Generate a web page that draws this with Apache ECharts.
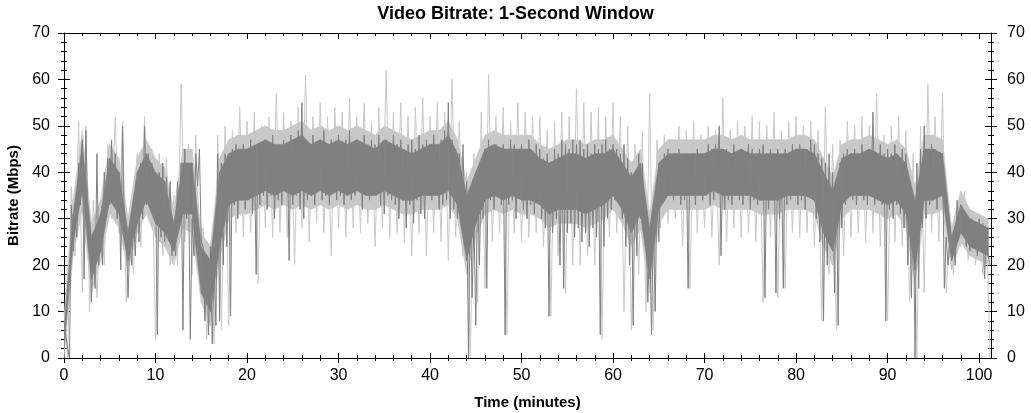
<!DOCTYPE html>
<html>
<head>
<meta charset="utf-8">
<script src="https://cdn.jsdelivr.net/npm/echarts@6/dist/echarts.min.js"></script>
<style>
html,body{margin:0;padding:0;background:#fff;}
#chart{width:1031px;height:413px;}
</style>
</head>
<body>
<div id="chart"></div>
<script>
// ---- data (Mbps) ----
const titleText = 'Video Bitrate: 1-Second Window';
const xName = 'Time (minutes)';
const yName = 'Bitrate (Mbps)';
const xMax = 101.3;
const yMax = 70;
const xTickLabels = [0,10,20,30,40,50,60,70,80,90,100];
const yTickLabels = [0,10,20,30,40,50,60,70];

// dense core of the trace, one value per minute (t = 0..101)
const coreStep = 1;
const darkCoreLo = [
  2,25,36,17,23,34,31,21,29,34, 29,27,23,31,31,14,10,24,33,34,
  34,35,36,35,36,35,36,35,36,35, 36,35,36,35,35,36,35,34,34,35,
  35,35,36,33,21,29,34,35,34,35, 34,34,33,31,32,32,32,31,32,33,
  35,32,27,31,17,32,35,35,35,35, 35,36,35,35,35,35,34,34,34,35,
  35,35,34,27,23,33,35,35,35,34, 33,34,31,19,34,34,35,21,27,24,
  23,22
];
const darkCoreHi = [
  6,31,46,26,31,43,40,27,40,44, 40,38,29,42,42,24,21,40,44,45,
  45,46,47,46,46,47,48,46,47,46, 47,46,47,46,45,47,46,45,44,45,
  46,46,48,44,35,40,45,46,45,45, 45,45,43,42,43,44,44,43,44,44,
  45,42,39,42,28,42,44,44,44,44, 44,45,45,44,45,44,44,44,44,44,
  45,45,44,40,36,43,44,44,45,44, 43,44,42,34,45,45,44,26,33,30,
  29,28
];
const lightCoreLo = [
  0,22,32,14,21,31,28,19,27,31, 26,24,20,28,27,12,7,21,30,31,
  31,32,33,32,33,32,33,32,33,32, 33,32,33,32,32,33,32,31,31,32,
  32,32,33,30,18,26,31,32,31,32, 31,31,30,28,29,29,29,28,29,30,
  32,29,24,28,14,29,32,32,32,32, 32,33,32,32,32,32,31,31,31,32,
  32,32,31,24,20,30,32,32,32,31, 30,31,28,16,31,31,32,19,25,22,
  21,20
];
const lightCoreHi = [
  9,34,49,29,34,46,43,30,43,47, 43,41,32,45,45,27,24,43,47,48,
  48,49,50,49,49,50,51,49,50,49, 50,49,50,49,48,50,49,48,47,48,
  49,49,51,47,38,43,48,49,48,48, 48,48,46,45,46,47,47,46,47,47,
  48,45,42,45,31,45,47,47,47,47, 47,48,48,47,48,47,47,47,47,47,
  48,48,47,43,39,46,47,47,48,47, 46,47,45,37,48,48,47,28,36,32,
  31,30
];

// main (dark) trace, one value every 0.2 minute
const darkStep = 0.2;
const darkValues = [
  8,5,2,0,33,23,30,26,42,33,
  47,17,49,30,28,12,27,15,44,20,
  30,20,40,31,43,33,47,34,44,30,
  40,19,50,28,27,13,26,20,30,22,
  36,25,42,30,50,33,44,36,42,30,
  38,5,40,26,42,25,39,28,38,22,
  28,22,38,28,42,6,45,30,40,4,
  30,22,44,37,45,25,24,8,22,5,
  24,3,20,7,44,8,42,20,44,24,
  43,9,45,33,46,30,44,34,46,32,
  45,34,47,31,44,18,46,33,45,35,
  47,32,44,35,48,30,45,34,46,33,
  47,36,45,21,48,33,46,35,49,32,
  55,30,47,34,46,35,48,33,46,36,
  47,34,49,35,45,33,47,36,46,34,
  48,35,46,33,47,36,49,34,46,35,
  47,36,45,32,48,35,46,34,47,36,
  46,35,48,33,45,31,47,35,46,34,
  48,33,46,30,47,34,45,28,46,33,
  47,29,45,34,48,31,46,30,47,35,
  46,34,48,35,45,32,47,33,49,34,
  55,30,47,32,45,30,44,34,46,28,
  38,0,35,13,30,7,37,20,42,30,
  45,15,47,34,45,32,46,35,44,33,
  46,5,45,33,47,34,46,30,45,35,
  46,32,45,30,47,33,44,31,46,34,
  45,30,43,28,44,9,42,27,45,30,
  44,20,47,15,46,27,45,29,47,26,
  46,28,47,25,45,27,46,24,44,28,
  46,26,45,5,46,24,47,30,45,32,
  46,34,45,35,44,30,46,24,43,20,
  40,7,38,22,44,30,42,28,30,12,
  28,5,30,10,36,25,40,35,44,36,
  45,35,43,34,44,36,45,33,42,34,
  44,15,43,35,44,33,45,36,43,34,
  44,35,46,33,45,34,46,36,50,22,
  43,32,45,34,44,33,46,35,44,34,
  45,33,44,35,46,32,45,34,44,33,
  45,34,46,13,44,32,45,34,44,14,
  45,30,43,15,45,33,44,34,46,35,
  45,33,46,34,44,32,45,35,47,34,
  46,30,44,25,43,8,42,20,44,30,
  40,14,38,7,42,28,44,33,45,35,
  44,34,45,33,43,35,46,34,44,33,
  45,35,53,33,44,34,46,33,44,8,
  45,32,44,30,46,33,43,31,45,28,
  44,20,38,13,35,0,42,15,45,28,
  50,30,45,33,46,34,45,32,44,35,
  44,15,26,20,25,21,26,20,34,28,
  33,27,30,24,29,23,30,24,29,22,
  30,23,29,17,28,22,20
];

// light (peak) trace, one value every 0.4 minute
const lightStep = 0.4;
const lightValues = [
  10,0,37,22,51,14,50,10,34,13,
  32,20,46,30,52,27,51,12,30,18,
  44,24,52,32,45,4,44,22,43,20,
  35,20,59,25,46,18,48,24,28,4,
  25,3,48,6,50,7,49,27,54,26,
  51,27,53,16,50,28,52,26,57,27,
  53,26,51,20,54,28,61,25,52,29,
  55,27,52,22,54,28,53,26,56,28,
  52,27,55,29,51,24,54,28,62,26,
  53,27,55,25,52,22,54,27,56,22,
  52,27,55,25,53,21,60,26,51,22,
  40,0,44,12,53,15,61,25,52,27,
  54,5,51,27,55,25,53,26,52,27,
  52,24,49,9,51,22,53,14,52,20,
  58,20,55,22,53,20,54,4,52,26,
  55,27,52,10,50,6,46,18,49,10,
  57,6,47,28,48,29,47,30,50,24,
  49,15,51,27,48,28,50,26,49,20,
  56,25,49,28,51,26,50,27,52,25,
  51,12,50,26,53,13,49,15,51,27,
  52,26,50,27,51,24,49,8,54,18,
  46,6,47,22,51,26,50,27,52,25,
  50,27,57,24,48,8,50,25,52,24,
  49,12,44,0,50,14,59,27,52,25,
  57,14,28,18,30,24,36,21,31,20,
  31,18,30,0
];

// ---- build ----
const DARK = '#808080', LIGHT = '#c8c8c8';
const toPairs = (vals, step) => vals.map((v, i) => [Math.round(i * step * 10) / 10, v]);
const minorOf = (majors, parts) => {
  const out = [];
  for (let i = 0; i < majors.length - 1; i++) {
    const a = majors[i], b = majors[i + 1];
    for (let k = 1; k < parts; k++) out.push(a + (b - a) * k / parts);
  }
  return out;
};
const xMinor = minorOf(xTickLabels, 5);
const yMinor = minorOf(yTickLabels, 5);
const FONT = '"Liberation Sans", Arial, sans-serif';

function tickAxis(kind, pos, inside, len, vals, extra) {
  const base = {
    type: 'value', position: pos, min: 0, max: kind === 'x' ? xMax : yMax,
    axisLine: { show: false, onZero: false },
    splitLine: { show: false },
    axisLabel: { show: false },
    axisTick: { show: true, inside: inside, length: len, customValues: vals, lineStyle: { color: '#000', width: 1 } }
  };
  return Object.assign(base, extra || {});
}

const xAxes = [
  tickAxis('x', 'bottom', false, 5, xTickLabels, {
    axisLine: { show: true, onZero: false, lineStyle: { color: '#000', width: 1 } },
    axisLabel: { show: true, customValues: xTickLabels, fontSize: 16, color: '#000', fontFamily: FONT, margin: 10 },
    name: xName, nameLocation: 'middle', nameGap: 37,
    nameTextStyle: { fontSize: 15, fontWeight: 'bold', color: '#000', fontFamily: FONT }
  }),
  tickAxis('x', 'bottom', true, 5, xTickLabels),
  tickAxis('x', 'bottom', false, 3, xMinor),
  tickAxis('x', 'bottom', true, 3, xMinor),
  tickAxis('x', 'top', true, 6, xTickLabels, {
    axisLine: { show: true, onZero: false, lineStyle: { color: '#000', width: 1 } }
  }),
  tickAxis('x', 'top', true, 3, xMinor)
];

const yAxes = [
  tickAxis('y', 'left', false, 6, yTickLabels, {
    axisLine: { show: true, onZero: false, lineStyle: { color: '#000', width: 1 } },
    axisLabel: { show: true, customValues: yTickLabels, fontSize: 16, color: '#000', fontFamily: FONT, margin: 14 },
    name: yName, nameLocation: 'middle', nameGap: 43, nameRotate: 90,
    nameTextStyle: { fontSize: 15, fontWeight: 'bold', color: '#000', fontFamily: FONT }
  }),
  tickAxis('y', 'left', true, 6, yTickLabels),
  tickAxis('y', 'left', false, 3, yMinor),
  tickAxis('y', 'left', true, 3, yMinor),
  tickAxis('y', 'right', false, 6, yTickLabels, {
    axisLine: { show: true, onZero: false, lineStyle: { color: '#000', width: 1 } },
    axisLabel: { show: true, customValues: yTickLabels, fontSize: 16, color: '#000', fontFamily: FONT, margin: 16 }
  }),
  tickAxis('y', 'right', true, 6, yTickLabels),
  tickAxis('y', 'right', false, 3, yMinor),
  tickAxis('y', 'right', true, 3, yMinor)
];

// filled band between lo and hi, drawn segment by segment through the axes' scales
function band(name, lo, hi, color, z) {
  const data = lo.map((v, i) => [Math.round(i * coreStep * 10) / 10, v, hi[i]]);
  return {
    type: 'custom', name: name, xAxisIndex: 0, yAxisIndex: 0, z: z, silent: true, clip: true,
    encode: { x: 0, y: [1, 2] },
    data: data,
    renderItem: function (params, api) {
      const i = params.dataIndex;
      if (i >= data.length - 1) return null;
      const a = data[i], b = data[i + 1];
      const pts = [
        api.coord([a[0], a[1]]), api.coord([b[0], b[1]]),
        api.coord([b[0], b[2]]), api.coord([a[0], a[2]])
      ];
      return { type: 'polygon', shape: { points: pts }, style: { fill: color, stroke: color, lineWidth: 0.6 } };
    }
  };
}

const chart = echarts.init(document.getElementById('chart'), null, { renderer: 'canvas' });
chart.setOption({
  animation: false,
  backgroundColor: '#fff',
  title: {
    text: titleText, left: 'center', top: 0,
    textStyle: { fontSize: 18, fontWeight: 'bold', color: '#000', fontFamily: FONT }
  },
  grid: { left: 64, right: 40, top: 33, bottom: 55, containLabel: false, outerBoundsMode: 'none' },
  xAxis: xAxes,
  yAxis: yAxes,
  series: [
    band('lightCore', lightCoreLo, lightCoreHi, LIGHT, 1),
    {
      type: 'line', name: 'peak', data: toPairs(lightValues, lightStep),
      xAxisIndex: 0, yAxisIndex: 0, showSymbol: false, symbol: 'none', sampling: null,
      lineStyle: { color: LIGHT, width: 1 }, z: 2
    },
    band('darkCore', darkCoreLo, darkCoreHi, DARK, 3),
    {
      type: 'line', name: 'bitrate', data: toPairs(darkValues, darkStep),
      xAxisIndex: 0, yAxisIndex: 0, showSymbol: false, symbol: 'none', sampling: null,
      lineStyle: { color: DARK, width: 1 }, z: 4
    }
  ]
});
</script>
</body>
</html>
